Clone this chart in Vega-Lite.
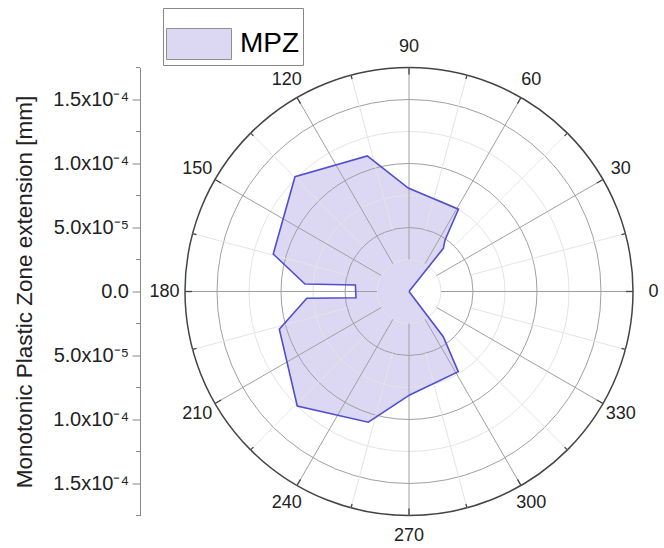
{
  "$schema": "https://vega.github.io/schema/vega-lite/v6.json",
  "width": 448,
  "height": 448,
  "autosize": {"type": "none"},
  "padding": {"left": 185, "top": 67.5, "right": 31, "bottom": 32.5},
  "background": "white",
  "config": {"view": {"stroke": null}, "font": "Liberation Sans"},
  "datasets": {
    "mpz": [
      {"i": 0, "a": 0, "r": 0, "s": "MPZ"},
      {"i": 1, "a": 51.5, "r": 4.31e-5, "s": "MPZ"},
      {"i": 2, "a": 55, "r": 4.91e-5, "s": "MPZ"},
      {"i": 3, "a": 59, "r": 7.5e-5, "s": "MPZ"},
      {"i": 4, "a": 90.4, "r": 8.08e-5, "s": "MPZ"},
      {"i": 5, "a": 107.1, "r": 1.108e-4, "s": "MPZ"},
      {"i": 6, "a": 134.8, "r": 1.264e-4, "s": "MPZ"},
      {"i": 7, "a": 164.6, "r": 1.1e-4, "s": "MPZ"},
      {"i": 8, "a": 175.9, "r": 8.15e-5, "s": "MPZ"},
      {"i": 9, "a": 173.1, "r": 4.22e-5, "s": "MPZ"},
      {"i": 10, "a": 186.7, "r": 4.17e-5, "s": "MPZ"},
      {"i": 11, "a": 183.8, "r": 8.0e-5, "s": "MPZ"},
      {"i": 12, "a": 196.2, "r": 1.055e-4, "s": "MPZ"},
      {"i": 13, "a": 225.7, "r": 1.25e-4, "s": "MPZ"},
      {"i": 14, "a": 252.7, "r": 1.07e-4, "s": "MPZ"},
      {"i": 15, "a": 270.4, "r": 8.08e-5, "s": "MPZ"},
      {"i": 16, "a": 301.6, "r": 7.35e-5, "s": "MPZ"},
      {"i": 17, "a": 307.2, "r": 4.43e-5, "s": "MPZ"},
      {"i": 18, "a": 360, "r": 0, "s": "MPZ"}
    ],
    "circles": [
      {"r": 2.5e-5, "k": "minor"},
      {"r": 5e-5, "k": "major"},
      {"r": 7.5e-5, "k": "minor"},
      {"r": 1e-4, "k": "major"},
      {"r": 1.25e-4, "k": "minor"},
      {"r": 1.5e-4, "k": "major"},
      {"r": 1.75e-4, "k": "outer"}
    ],
    "spokes": [
      {"a": 0, "k": "major"}, {"a": 15, "k": "minor"}, {"a": 30, "k": "major"}, {"a": 45, "k": "minor"},
      {"a": 60, "k": "major"}, {"a": 75, "k": "minor"}, {"a": 90, "k": "major"}, {"a": 105, "k": "minor"},
      {"a": 120, "k": "major"}, {"a": 135, "k": "minor"}, {"a": 150, "k": "major"}, {"a": 165, "k": "minor"},
      {"a": 180, "k": "major"}, {"a": 195, "k": "minor"}, {"a": 210, "k": "major"}, {"a": 225, "k": "minor"},
      {"a": 240, "k": "major"}, {"a": 255, "k": "minor"}, {"a": 270, "k": "major"}, {"a": 285, "k": "minor"},
      {"a": 300, "k": "major"}, {"a": 315, "k": "minor"}, {"a": 330, "k": "major"}, {"a": 345, "k": "minor"}
    ],
    "labels": [
      {"a": 0}, {"a": 30}, {"a": 60}, {"a": 90}, {"a": 120}, {"a": 150},
      {"a": 180}, {"a": 210}, {"a": 240}, {"a": 270}, {"a": 300}, {"a": 330}
    ],
    "radial": [
      {"v": 1.5e-4, "t": "1.5x10⁻⁴"},
      {"v": 1e-4, "t": "1.0x10⁻⁴"},
      {"v": 5e-5, "t": "5.0x10⁻⁵"},
      {"v": 0, "t": "0.0"},
      {"v": -5e-5, "t": "5.0x10⁻⁵"},
      {"v": -1e-4, "t": "1.0x10⁻⁴"},
      {"v": -1.5e-4, "t": "1.5x10⁻⁴"}
    ],
    "minorticks": [
      {"v": -1.75e-4}, {"v": -1.25e-4}, {"v": -7.5e-5}, {"v": -2.5e-5},
      {"v": 2.5e-5}, {"v": 7.5e-5}, {"v": 1.25e-4}, {"v": 1.75e-4}
    ]
  },
  "layer": [
    {
      "data": {"name": "mpz"},
      "transform": [
        {"calculate": "datum.r * cos(datum.a * PI / 180)", "as": "x"},
        {"calculate": "datum.r * sin(datum.a * PI / 180)", "as": "y"}
      ],
      "mark": {"type": "line", "strokeWidth": 0, "stroke": null},
      "encoding": {
        "x": {"field": "x", "type": "quantitative", "scale": {"domain": [-1.75e-4, 1.75e-4], "nice": false, "zero": false}, "axis": null},
        "y": {
          "field": "y", "type": "quantitative",
          "scale": {"domain": [-1.75e-4, 1.75e-4], "nice": false, "zero": false},
          "axis": {
            "orient": "left", "offset": 45, "grid": false, "labels": false,
            "values": [-1.5e-4, -1e-4, -5e-5, 0, 5e-5, 1e-4, 1.5e-4],
            "domainColor": "#888", "domainWidth": 1, "tickColor": "#888", "tickWidth": 1, "tickSize": 8,
            "title": "Monotonic Plastic Zone extension [mm]", "titleFont": "Liberation Sans", "titleFontSize": 22.5,
            "titleFontWeight": "normal", "titleColor": "#222", "titlePadding": 95
          }
        },
        "order": {"field": "i", "type": "quantitative"},
        "fill": {
          "field": "s", "type": "nominal",
          "scale": {"domain": ["MPZ"], "range": ["#dcd8f3"]},
          "legend": {
            "title": null, "orient": "none", "legendX": -22, "legendY": -59.5,
            "symbolType": "M-1,-0.477H1V0.477H-1Z", "symbolSize": 4225,
            "symbolStrokeColor": "#909090", "symbolStrokeWidth": 1, "symbolOpacity": 1,
            "labelFontSize": 28, "labelFont": "Liberation Sans", "labelColor": "#000", "labelOffset": 8,
            "strokeColor": "#888", "fillColor": "#fff", "padding": 3
          }
        }
      }
    },
    {
      "data": {"name": "circles"},
      "mark": {"type": "arc", "theta": 0, "theta2": 6.2832, "fill": null, "filled": false},
      "encoding": {
        "radius": {"field": "r", "type": "quantitative", "stack": null, "scale": {"type": "linear", "domain": [0, 1.75e-4], "range": [0, 224], "zero": true, "nice": false}},
        "stroke": {"field": "k", "type": "nominal", "scale": {"domain": ["minor", "major", "outer"], "range": ["#e4e4e4", "#a0a0a0", "#444444"]}, "legend": null},
        "strokeWidth": {"condition": {"test": "datum.k == 'outer'", "value": 1.5}, "value": 1}
      }
    },
    {
      "data": {"name": "spokes"},
      "transform": [
        {"calculate": "(datum.k == 'major' ? 2.5e-5 : 5e-5) * cos(datum.a * PI / 180)", "as": "x1"},
        {"calculate": "(datum.k == 'major' ? 2.5e-5 : 5e-5) * sin(datum.a * PI / 180)", "as": "y1"},
        {"calculate": "1.75e-4 * cos(datum.a * PI / 180)", "as": "xo"},
        {"calculate": "1.75e-4 * sin(datum.a * PI / 180)", "as": "yo"}
      ],
      "mark": {"type": "rule", "strokeWidth": 1},
      "encoding": {
        "x": {"field": "x1", "type": "quantitative"},
        "y": {"field": "y1", "type": "quantitative"},
        "x2": {"field": "xo"},
        "y2": {"field": "yo"},
        "stroke": {"field": "k", "type": "nominal", "legend": null}
      }
    },
    {
      "data": {"name": "spokes"},
      "transform": [
        {"calculate": "(1.75e-4 - (datum.k == 'major' ? 5.5e-6 : 3.1e-6)) * cos(datum.a * PI / 180)", "as": "x1"},
        {"calculate": "(1.75e-4 - (datum.k == 'major' ? 5.5e-6 : 3.1e-6)) * sin(datum.a * PI / 180)", "as": "y1"},
        {"calculate": "1.75e-4 * cos(datum.a * PI / 180)", "as": "xo"},
        {"calculate": "1.75e-4 * sin(datum.a * PI / 180)", "as": "yo"}
      ],
      "mark": {"type": "rule", "strokeWidth": 1.3, "color": "#444444"},
      "encoding": {
        "x": {"field": "x1", "type": "quantitative"},
        "y": {"field": "y1", "type": "quantitative"},
        "x2": {"field": "xo"},
        "y2": {"field": "yo"}
      }
    },
    {
      "data": {"name": "mpz"},
      "transform": [
        {"calculate": "datum.r * cos(datum.a * PI / 180)", "as": "x"},
        {"calculate": "datum.r * sin(datum.a * PI / 180)", "as": "y"}
      ],
      "mark": {"type": "line", "stroke": "#4f4fcf", "strokeWidth": 1.6, "strokeJoin": "miter"},
      "encoding": {
        "x": {"field": "x", "type": "quantitative"},
        "y": {"field": "y", "type": "quantitative"},
        "order": {"field": "i", "type": "quantitative"}
      }
    },
    {
      "data": {"name": "labels"},
      "transform": [
        {"calculate": "1.91e-4 * cos(datum.a * PI / 180)", "as": "x"},
        {"calculate": "1.91e-4 * sin(datum.a * PI / 180)", "as": "y"}
      ],
      "mark": {"type": "text", "fontSize": 18, "font": "Liberation Sans", "color": "#222", "align": "center", "baseline": "middle"},
      "encoding": {
        "x": {"field": "x", "type": "quantitative"},
        "y": {"field": "y", "type": "quantitative"},
        "text": {"field": "a", "type": "nominal"}
      }
    },
    {
      "data": {"name": "radial"},
      "mark": {"type": "text", "fontSize": 20, "font": "Liberation Sans", "color": "#222", "align": "right", "baseline": "middle"},
      "encoding": {
        "x": {"datum": -2.1875e-4, "type": "quantitative"},
        "y": {"field": "v", "type": "quantitative"},
        "text": {"field": "t", "type": "nominal"}
      }
    },
    {
      "data": {"name": "minorticks"},
      "mark": {"type": "rule", "strokeWidth": 1, "color": "#888"},
      "encoding": {
        "x": {"datum": -2.1328e-4, "type": "quantitative"},
        "x2": {"datum": -2.1016e-4},
        "y": {"field": "v", "type": "quantitative"}
      }
    }
  ]
}
